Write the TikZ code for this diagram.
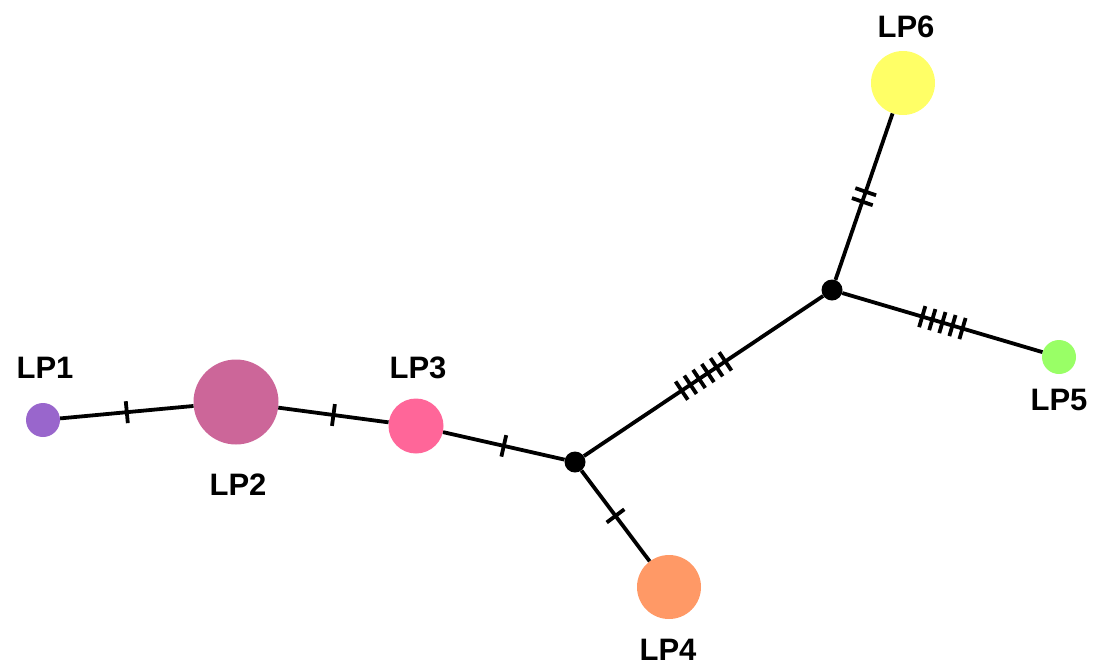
\documentclass[tikz,border=0pt]{standalone}
\usepackage{fontspec}
\setmainfont{Liberation Sans}
\usetikzlibrary{decorations.markings}

\definecolor{lpone}{HTML}{9966CC}
\definecolor{lptwo}{HTML}{CC6699}
\definecolor{lpthree}{HTML}{FF6699}
\definecolor{lpfour}{HTML}{FF9966}
\definecolor{lpfive}{HTML}{99FF66}
\definecolor{lpsix}{HTML}{FFFF66}

\begin{document}
\begin{tikzpicture}[
    x=1pt, y=-1pt,
    hap/.style={circle, inner sep=0pt, minimum size=#1},
    median/.style={circle, fill=black, inner sep=0pt, minimum size=21pt},
    hapname/.style={font=\bfseries\fontsize{31}{34}\selectfont, inner sep=0pt},
    edge/.style={line width=3.8pt},
    muts/.style={postaction={decorate, decoration={markings,
        mark=at position 0.5 with {
            \foreach \k in {1,...,#1}
                \draw[line width=3.8pt] ({(\k-(#1+1)/2)*10.5pt},-11pt) -- ++(0,22pt);
        }}}}
]
\useasboundingbox (0,0) rectangle (1103,665);

% haplotypes
\node[hap=34pt, fill=lpone] (lp1) at (43,420) {};
\node[hap=85pt, fill=lptwo] (lp2) at (236,402) {};
\node[hap=55pt, fill=lpthree] (lp3) at (416,426) {};
\node[hap=64pt, fill=lpfour] (lp4) at (669,587) {};
\node[hap=34pt, fill=lpfive] (lp5) at (1059,357) {};
\node[hap=64pt, fill=lpsix] (lp6) at (903,83) {};

% median vectors
\node[median] (mv1) at (575,462) {};
\node[median] (mv2) at (832,290) {};

% labels
\node[hapname] (t1) at (45,368) {LP1};
\node[hapname] (t2) at (238,485) {LP2};
\node[hapname] (t3) at (418,368) {LP3};
\node[hapname] (t4) at (668,650) {LP4};
\node[hapname] (t5) at (1059,400) {LP5};
\node[hapname] (t6) at (906,27) {LP6};

\draw[edge, muts=1] (lp1) -- (lp2);
\draw[edge, muts=1] (lp2) -- (lp3);
\draw[edge, muts=1] (lp3) -- (mv1);
\draw[edge, muts=1] (mv1) -- (lp4);
\draw[edge, muts=6] (mv1) -- (mv2);
\draw[edge, muts=5] (mv2) -- (lp5);
\draw[edge, muts=2] (mv2) -- (lp6);
\end{tikzpicture}
\end{document}
